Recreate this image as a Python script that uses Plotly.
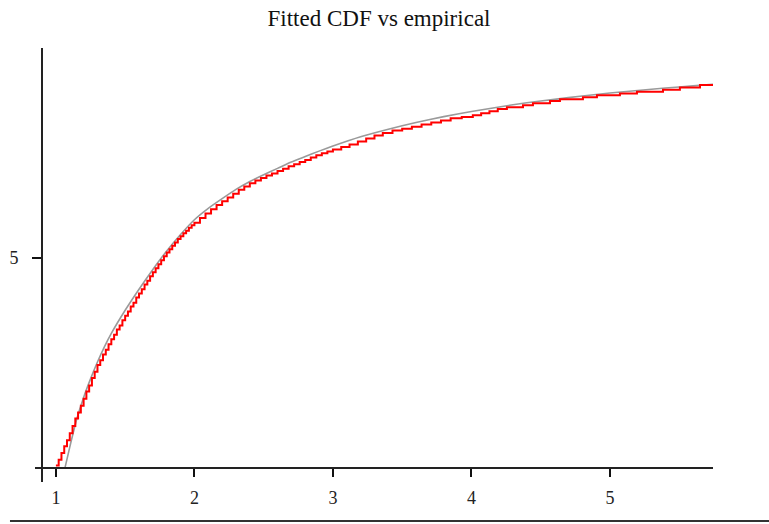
import plotly.graph_objects as go

# Empirical CDF (step function)
emp_x = [1.00, 1.02, 1.04, 1.06, 1.08, 1.10, 1.12, 1.14, 1.16, 1.18,
         1.20, 1.22, 1.24, 1.26, 1.28, 1.30, 1.32, 1.34, 1.36, 1.38,
         1.40, 1.42, 1.44, 1.46, 1.48, 1.50, 1.52, 1.54, 1.56, 1.58,
         1.60, 1.62, 1.64, 1.66, 1.68, 1.70, 1.72, 1.74, 1.76, 1.78,
         1.80, 1.82, 1.84, 1.86, 1.88, 1.90, 1.92, 1.94, 1.96, 1.98,
         2.00, 2.04, 2.08, 2.12, 2.16, 2.20, 2.24, 2.28, 2.32, 2.36,
         2.40, 2.44, 2.48, 2.52, 2.56, 2.60, 2.64, 2.68, 2.72, 2.76,
         2.80, 2.84, 2.88, 2.92, 2.96, 3.00, 3.06, 3.12, 3.18, 3.24,
         3.30, 3.36, 3.43, 3.50, 3.57, 3.64, 3.71, 3.78, 3.85, 3.93,
         4.01, 4.07, 4.13, 4.19, 4.256, 4.372, 4.444, 4.567, 4.639, 4.805,
         4.906, 5.072, 5.195, 5.383, 5.505, 5.650, 5.745]
emp_y = [0.006, 0.020, 0.036, 0.052, 0.066, 0.083, 0.100, 0.118, 0.132, 0.148,
         0.165, 0.182, 0.196, 0.214, 0.229, 0.245, 0.256, 0.270, 0.281, 0.294,
         0.306, 0.317, 0.329, 0.339, 0.351, 0.362, 0.372, 0.384, 0.393, 0.405,
         0.415, 0.425, 0.436, 0.445, 0.456, 0.465, 0.475, 0.484, 0.494, 0.503,
         0.512, 0.520, 0.528, 0.536, 0.544, 0.551, 0.558, 0.564, 0.571, 0.577,
         0.583, 0.594, 0.605, 0.615, 0.625, 0.634, 0.643, 0.652, 0.661, 0.669,
         0.677, 0.683, 0.689, 0.695, 0.700, 0.706, 0.711, 0.717, 0.722, 0.727,
         0.732, 0.738, 0.743, 0.748, 0.752, 0.757, 0.763, 0.769, 0.776, 0.783,
         0.790, 0.796, 0.802, 0.806, 0.811, 0.816, 0.821, 0.826, 0.831, 0.834,
         0.838, 0.843, 0.848, 0.853, 0.857, 0.862, 0.867, 0.872, 0.876, 0.881,
         0.886, 0.890, 0.894, 0.899, 0.904, 0.910, 0.910]

# Fitted CDF
fit_x = [1.065, 1.100, 1.150, 1.200, 1.250, 1.300, 1.350, 1.400, 1.500, 1.600,
         1.700, 1.800, 1.900, 2.000, 2.100, 2.200, 2.300, 2.400, 2.500, 2.600,
         2.700, 2.800, 2.900, 3.000, 3.200, 3.400, 3.600, 3.800, 4.000, 4.200,
         4.400, 4.600, 4.800, 5.000, 5.200, 5.400, 5.600, 5.745]
fit_y = [0.000, 0.050, 0.116, 0.168, 0.212, 0.252, 0.288, 0.320, 0.375, 0.425,
         0.472, 0.516, 0.555, 0.590, 0.617, 0.640, 0.662, 0.681, 0.697, 0.712,
         0.727, 0.740, 0.753, 0.765, 0.787, 0.805, 0.821, 0.835, 0.847, 0.858,
         0.868, 0.876, 0.884, 0.891, 0.897, 0.903, 0.908, 0.912]

x_ticks = [1, 2, 3, 4, 5]
x_tick_text = ["1", "2", "3", "4", "5"]
y_ticks = [0.5]
y_tick_text = ["5"]

title_text = "Fitted CDF vs empirical"

X_RANGE = [0.849, 5.744]
Y_RANGE = [-0.033, 0.998]
X_AXIS_POS = 0.032   # x axis drawn at y=0
Y_AXIS_POS = 0.0104  # y axis drawn at x=0.9

fig = go.Figure()
fig.add_trace(go.Scatter(x=fit_x, y=fit_y, mode="lines",
                         line=dict(color="#9a9a9a", width=1.6, shape="spline", smoothing=0.6),
                         hoverinfo="skip", showlegend=False))
fig.add_trace(go.Scatter(x=emp_x, y=emp_y, mode="lines",
                         line=dict(color="#ff0000", width=2, shape="hv"),
                         showlegend=False))

font_serif = "Liberation Serif, Times New Roman, serif"

fig.update_layout(
    width=769, height=524,
    margin=dict(l=35, r=56, t=48, b=42, autoexpand=False),
    paper_bgcolor="white", plot_bgcolor="white",
    title=dict(text=title_text, x=379 / 769, xanchor="center", y=1 - 18 / 524,
               yanchor="middle", font=dict(family=font_serif, size=23, color="#111")),
    xaxis=dict(range=X_RANGE, anchor="free", position=X_AXIS_POS, automargin=False,
               showgrid=False, zeroline=False, showline=True,
               linecolor="#222", linewidth=2,
               tickmode="array", tickvals=x_ticks, ticktext=x_tick_text,
               ticks="outside", ticklen=8, tickwidth=2, tickcolor="#111",
               ticklabelstandoff=5,
               tickfont=dict(family=font_serif, size=18, color="#222")),
    xaxis2=dict(range=X_RANGE, overlaying="x", anchor="free", position=X_AXIS_POS,
                automargin=False,
                showgrid=False, zeroline=False, showline=False,
                tickmode="array", tickvals=x_ticks,
                ticks="inside", ticklen=7, tickwidth=2, tickcolor="#111",
                showticklabels=False),
    yaxis=dict(range=Y_RANGE, anchor="free", position=Y_AXIS_POS, automargin=False,
               showgrid=False, zeroline=False, showline=True,
               linecolor="#222", linewidth=2,
               tickmode="array", tickvals=y_ticks, ticktext=y_tick_text,
               ticks="outside", ticklen=9, tickwidth=2, tickcolor="#111",
               ticklabelstandoff=10,
               tickfont=dict(family=font_serif, size=18, color="#222")),
    yaxis2=dict(range=Y_RANGE, overlaying="y", anchor="free", position=Y_AXIS_POS,
                automargin=False,
                showgrid=False, zeroline=False, showline=False,
                tickmode="array", tickvals=y_ticks,
                ticks="inside", ticklen=10, tickwidth=2, tickcolor="#111",
                showticklabels=False),
    shapes=[dict(type="line", xref="paper", yref="paper",
                 x0=-0.0369, x1=1.0826, y0=-0.0899, y1=-0.0899,
                 line=dict(color="#333", width=2))],
)

fig.write_html("out.html")
